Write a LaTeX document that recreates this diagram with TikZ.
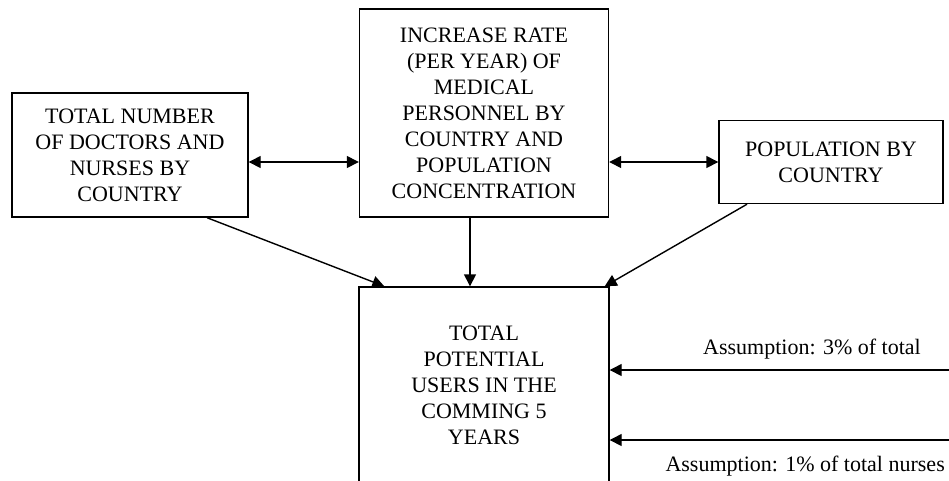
\documentclass[tikz,border=0pt]{standalone}
\usepackage{fontspec}
\setmainfont{Liberation Serif}
\usetikzlibrary{arrows.meta,calc}

\begin{document}
\begin{tikzpicture}[x=1pt,y=-1pt,
    box/.style={draw, line width=1.4pt, align=center, inner sep=0pt,
        font=\fontsize{22}{26}\selectfont},
    arr/.style={line width=1.4pt, -{Triangle[length=12pt,width=12pt]}},
    dbl/.style={line width=1.4pt, {Triangle[length=12pt,width=12pt]}-{Triangle[length=12pt,width=12pt]}},
    note/.style={font=\fontsize{22}{26}\selectfont, inner sep=0pt}]
    \clip (0,0) rectangle (949,480);

    \node[box, minimum width=236pt, minimum height=124pt] (docs) at (130,155)
        {TOTAL NUMBER\\OF DOCTORS AND\\NURSES BY\\COUNTRY};
    \node[box, minimum width=249pt, minimum height=208pt] (rate) at (484,113)
        {INCREASE RATE\\(PER YEAR) OF\\MEDICAL\\PERSONNEL BY\\COUNTRY AND\\POPULATION\\CONCENTRATION};
    \node[box, minimum width=224pt, minimum height=83pt] (pop) at (831,162)
        {POPULATION BY\\COUNTRY};
    \node[box, minimum width=250pt, minimum height=196pt] (users) at (484,385)
        {TOTAL\\POTENTIAL\\USERS IN THE\\COMMING 5\\YEARS};

    \coordinate (in1) at (949,370);
    \coordinate (in2) at (949,440);
    \node[note] (note1) at (812,349) {Assumption: 3\% of total};
    \node[note, anchor=east] (note2) at (945,466) {Assumption: 1\% of total nurses};

    \draw[dbl] (docs.east |- pop.west) -- (rate.west |- pop.west);
    \draw[dbl] (rate.east |- pop.west) -- (pop.west);

    \draw[arr] (docs.south -| 207,0) -- ($(users.north west)+(26,0)$);
    \draw[arr] ($(rate.south)+(-14,0)$) -- ($(users.north)+(-14,0)$);
    \draw[arr] (pop.south -| 747,0) -- ($(users.north east)+(-5,0)$);

    \draw[arr] (in1) -- (users.east |- in1);
    \draw[arr] (in2) -- (users.east |- in2);
\end{tikzpicture}
\end{document}
